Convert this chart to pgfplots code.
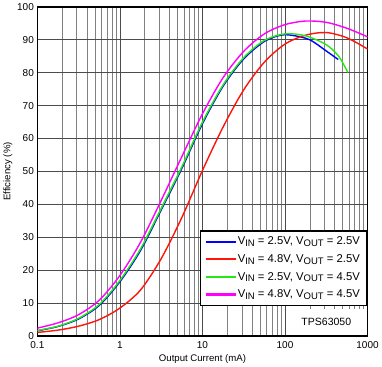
\documentclass[border=0pt]{standalone}
\usepackage{pgfplots}
\pgfplotsset{compat=1.18}
\usepackage{fontspec}
\setmainfont{Liberation Sans}
\definecolor{cblue}{RGB}{0,0,255}
\definecolor{cred}{RGB}{255,20,10}
\definecolor{cgreen}{RGB}{40,230,20}
\definecolor{cmag}{RGB}{255,0,255}
\newcommand{\sub}[1]{\raisebox{-0.3ex}{\fontsize{9.5}{9.5}\selectfont #1}}
\begin{document}
\begin{tikzpicture}
\begin{axis}[
  xmode=log,
  scale only axis,
  width=330pt, height=329pt,
  xmin=0.1, xmax=1000, ymin=0, ymax=100,
  xtick={0.1,1,10,100,1000},
  xticklabels={0.1,1,10,100,1000},
  minor xtick={0.2,0.3,0.4,0.5,0.6,0.7,0.8,0.9,2,3,4,5,6,7,8,9,20,30,40,50,60,70,80,90,200,300,400,500,600,700,800,900},
  ytick={0,10,...,100},
  grid=both,
  major grid style={black!70, line width=0.6pt},
  minor grid style={black!50, line width=0.6pt},
  major tick length=0pt, minor tick length=0pt,
  axis line style={line width=1.4pt},
  tick label style={font=\fontsize{10}{12}\selectfont},
  xticklabel style={yshift=-2pt},
  /pgf/number format/assume math mode=true,
  xlabel={Output Current (mA)},
  ylabel={Efficiency (\%)},
  label style={font=\fontsize{9.6}{12}\selectfont},
  xlabel style={yshift=1pt},
  ylabel style={yshift=-2pt},
  legend style={at={(1,0.3207)}, anchor=north east, draw=black, line width=1.2pt,
    font=\fontsize{11.3}{13}\selectfont, row sep=4.2pt, inner xsep=5pt, inner ysep=4pt},
  legend cell align=left,
  legend image code/.code={\fill[#1, draw=none] (0pt,-1.1pt) rectangle (30pt,1.1pt);},
  every axis plot/.append style={line width=1.4pt},
]
\addplot[color=cblue, smooth] coordinates {
(0.1,1.6) (0.1778,2.9) (0.3162,5.2) (0.5623,9.3) (1,16.5) (1.778,26.0) (3.162,38.3) (5.623,50.9) (10,64.5) (17.78,75.9) (31.62,84.2) (56.23,89.5) (89.1,91.4) (125.9,91.3) (199.5,90.0) (316.2,86.6) (441.6,84.0)};
\addlegendentry{V\sub{IN} = 2.5V, V\sub{OUT} = 2.5V}
\addplot[color=cred, smooth] coordinates {
(0.1,1.1) (0.1778,1.8) (0.3162,3.0) (0.5623,5.0) (1,8.5) (1.778,14.0) (3.162,23.5) (5.623,36.0) (10,50.3) (17.78,63.5) (31.62,74.8) (56.23,83.2) (100,88.7) (177.8,91.4) (316.2,92.2) (562.3,90.6) (1000,87.2)};
\addlegendentry{V\sub{IN} = 4.8V, V\sub{OUT} = 2.5V}
\addplot[color=cgreen, smooth] coordinates {
(0.1,1.7) (0.1778,3.0) (0.3162,5.4) (0.5623,9.6) (1,16.9) (1.778,26.5) (3.162,38.8) (5.623,51.4) (10,65.0) (17.78,76.3) (31.62,84.6) (56.23,89.8) (100,91.8) (177.8,91.2) (316.2,88.5) (446.7,85.0) (577,80.1)};
\addlegendentry{V\sub{IN} = 2.5V, V\sub{OUT} = 4.5V}
\addplot[color=cmag, smooth] coordinates {
(0.1,2.4) (0.1778,4.0) (0.3162,6.5) (0.5623,10.9) (1,18.4) (1.778,28.5) (3.162,41.2) (5.623,54.5) (10,67.5) (17.78,78.5) (31.62,86.5) (56.23,91.8) (100,94.6) (177.8,95.7) (316.2,95.3) (562.3,93.5) (1000,90.9)};
\addlegendentry{V\sub{IN} = 4.8V, V\sub{OUT} = 4.5V}
\node[fill=white, anchor=south east, minimum width=80pt, minimum height=26pt, inner sep=0pt]
  at (rel axis cs:1,0) [xshift=-1pt, yshift=1pt] {\fontsize{10.5}{12}\selectfont TPS63050};
\end{axis}
\end{tikzpicture}
\end{document}
